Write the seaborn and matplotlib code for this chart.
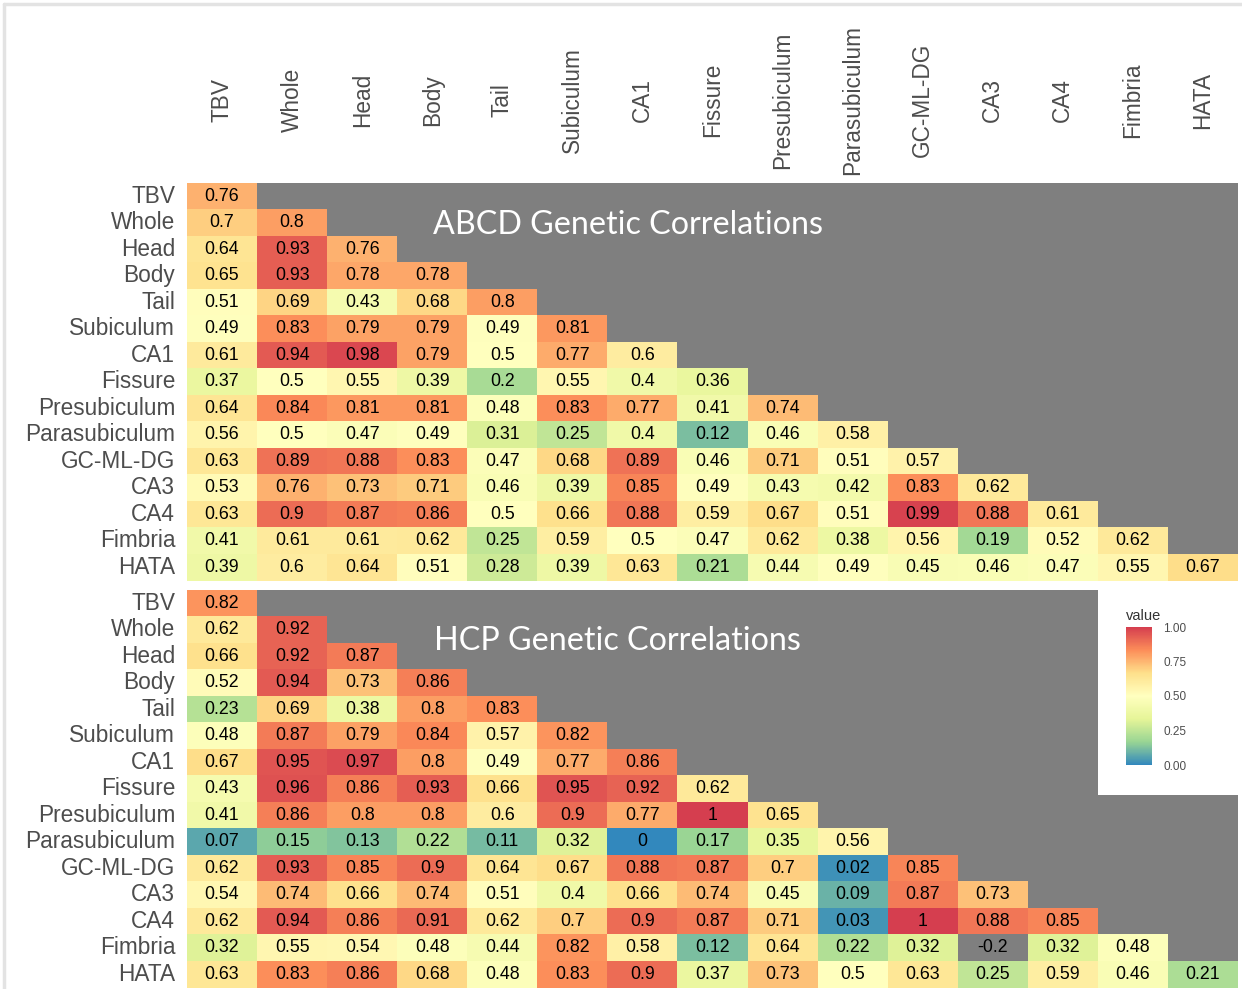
import numpy as np
import pandas as pd

import matplotlib as mpl
import matplotlib.pyplot as plt
from matplotlib.colors import LinearSegmentedColormap
from matplotlib.patches import Rectangle
from matplotlib.lines import Line2D
from matplotlib.ticker import FormatStrFormatter

import seaborn as sns

sns.set_style("white")

mpl.rcParams["font.family"] = ["Liberation Sans", "DejaVu Sans"]

REGIONS = [
    "TBV", "Whole", "Head", "Body", "Tail", "Subiculum", "CA1", "Fissure",
    "Presubiculum", "Parasubiculum", "GC-ML-DG", "CA3", "CA4", "Fimbria", "HATA",
]

# lower triangle, row by row (diagonal included)
ABCD_ROWS = [
    [0.76],
    [0.7, 0.8],
    [0.64, 0.93, 0.76],
    [0.65, 0.93, 0.78, 0.78],
    [0.51, 0.69, 0.43, 0.68, 0.8],
    [0.49, 0.83, 0.79, 0.79, 0.49, 0.81],
    [0.61, 0.94, 0.98, 0.79, 0.5, 0.77, 0.6],
    [0.37, 0.5, 0.55, 0.39, 0.2, 0.55, 0.4, 0.36],
    [0.64, 0.84, 0.81, 0.81, 0.48, 0.83, 0.77, 0.41, 0.74],
    [0.56, 0.5, 0.47, 0.49, 0.31, 0.25, 0.4, 0.12, 0.46, 0.58],
    [0.63, 0.89, 0.88, 0.83, 0.47, 0.68, 0.89, 0.46, 0.71, 0.51, 0.57],
    [0.53, 0.76, 0.73, 0.71, 0.46, 0.39, 0.85, 0.49, 0.43, 0.42, 0.83, 0.62],
    [0.63, 0.9, 0.87, 0.86, 0.5, 0.66, 0.88, 0.59, 0.67, 0.51, 0.99, 0.88, 0.61],
    [0.41, 0.61, 0.61, 0.62, 0.25, 0.59, 0.5, 0.47, 0.62, 0.38, 0.56, 0.19, 0.52, 0.62],
    [0.39, 0.6, 0.64, 0.51, 0.28, 0.39, 0.63, 0.21, 0.44, 0.49, 0.45, 0.46, 0.47, 0.55, 0.67],
]

HCP_ROWS = [
    [0.82],
    [0.62, 0.92],
    [0.66, 0.92, 0.87],
    [0.52, 0.94, 0.73, 0.86],
    [0.23, 0.69, 0.38, 0.8, 0.83],
    [0.48, 0.87, 0.79, 0.84, 0.57, 0.82],
    [0.67, 0.95, 0.97, 0.8, 0.49, 0.77, 0.86],
    [0.43, 0.96, 0.86, 0.93, 0.66, 0.95, 0.92, 0.62],
    [0.41, 0.86, 0.8, 0.8, 0.6, 0.9, 0.77, 1, 0.65],
    [0.07, 0.15, 0.13, 0.22, 0.11, 0.32, 0, 0.17, 0.35, 0.56],
    [0.62, 0.93, 0.85, 0.9, 0.64, 0.67, 0.88, 0.87, 0.7, 0.02, 0.85],
    [0.54, 0.74, 0.66, 0.74, 0.51, 0.4, 0.66, 0.74, 0.45, 0.09, 0.87, 0.73],
    [0.62, 0.94, 0.86, 0.91, 0.62, 0.7, 0.9, 0.87, 0.71, 0.03, 1, 0.88, 0.85],
    [0.32, 0.55, 0.54, 0.48, 0.44, 0.82, 0.58, 0.12, 0.64, 0.22, 0.32, -0.2, 0.32, 0.48],
    [0.63, 0.83, 0.86, 0.68, 0.48, 0.83, 0.9, 0.37, 0.73, 0.5, 0.63, 0.25, 0.59, 0.46, 0.21],
]

CBAR_TICKS = [0.0, 0.25, 0.5, 0.75, 1.0]

# ggplot distiller "Spectral" (7 classes), low -> high
SPECTRAL = ["#3288BD", "#99D594", "#E6F598", "#FFFFBF", "#FEE08B", "#FC8D59", "#D53E4F"]
NA_GRAY = "#7f7f7f"
LABEL_COLOR = "#4d4d4d"

cmap = LinearSegmentedColormap.from_list("spectral_gg", SPECTRAL)
cmap.set_under(NA_GRAY)


def to_frame(rows):
    n = len(REGIONS)
    mat = np.full((n, n), np.nan)
    for i, row in enumerate(rows):
        mat[i, :len(row)] = row
    return pd.DataFrame(mat, index=REGIONS, columns=REGIONS)


def to_labels(df):
    return df.map(lambda v: "" if np.isnan(v) else f"{v:g}").values


abcd = to_frame(ABCD_ROWS)
hcp = to_frame(HCP_ROWS)

W, H = 1242, 989
fig = plt.figure(figsize=(W / 100, H / 100), dpi=100)


def px_rect(x0, y0, x1, y1):
    return [x0 / W, 1 - y1 / H, (x1 - x0) / W, (y1 - y0) / H]


ax1 = fig.add_axes(px_rect(187, 182.75, 1238, 580.5))
ax2 = fig.add_axes(px_rect(187, 589.75, 1238, 987.5))
cax = fig.add_axes(px_rect(1126, 627, 1152, 765))

for ax, df, show_x in [(ax1, abcd, True), (ax2, hcp, False)]:

    ax.set_facecolor(NA_GRAY)

    sns.heatmap(
        df,
        ax=ax,
        cmap=cmap,
        vmin=0,
        vmax=1,
        annot=to_labels(df),
        fmt="",
        annot_kws={"fontsize": 12.8, "color": "black"},
        cbar=(ax is ax2),
        cbar_ax=cax if ax is ax2 else None,
        xticklabels=show_x,
        yticklabels=True,
    )

    ax.tick_params(
        axis="y",
        length=0,
        pad=8.5,
        labelsize=16.3,
        labelcolor=LABEL_COLOR,
        rotation=0
    )

    if show_x:
        ax.xaxis.tick_top()
        ax.tick_params(
            axis="x",
            length=0,
            pad=59.5,
            labelsize=16.3,
            labelcolor=LABEL_COLOR
        )
        for lab in ax.get_xticklabels():
            lab.set_rotation(90)
            lab.set_va("center")

ax1.text(
    6.3, 1.6,
    "ABCD Genetic Correlations",
    color="white",
    fontsize=23.2,
    family=["Lato", "DejaVu Sans"],
    ha="center",
    va="center"
)

ax2.text(
    6.15, 1.93,
    "HCP Genetic Correlations",
    color="white",
    fontsize=23.2,
    family=["Lato", "DejaVu Sans"],
    ha="center",
    va="center"
)

# legend box (white) behind the colour bar
fig.patches.append(
    Rectangle(
        (1098 / W, 1 - 795 / H),
        142 / W,
        205 / H,
        transform=fig.transFigure,
        facecolor="white",
        edgecolor="none",
        zorder=1
    )
)
cax.set_zorder(3)
cax.yaxis.set_major_formatter(FormatStrFormatter("%.2f"))
cax.set_yticks(CBAR_TICKS)
cax.tick_params(
    axis="y",
    direction="in",
    color="white",
    length=4,
    labelsize=8.5,
    labelcolor=LABEL_COLOR,
    pad=8
)
for sp in cax.spines.values():
    sp.set_visible(False)
cax.set_title("value", fontsize=10.5, color="#333333", loc="left", pad=5)

# thin frame of the screenshot
fig.lines.append(Line2D([4 / W, 4 / W], [0, 1 - 4 / H], transform=fig.transFigure,
                        color="#e3e3e3", linewidth=2.5))
fig.lines.append(Line2D([4 / W, 1], [1 - 4 / H, 1 - 4 / H], transform=fig.transFigure,
                        color="#e3e3e3", linewidth=2.5))

fig.savefig("out.png", dpi=100)
plt.close(fig)
